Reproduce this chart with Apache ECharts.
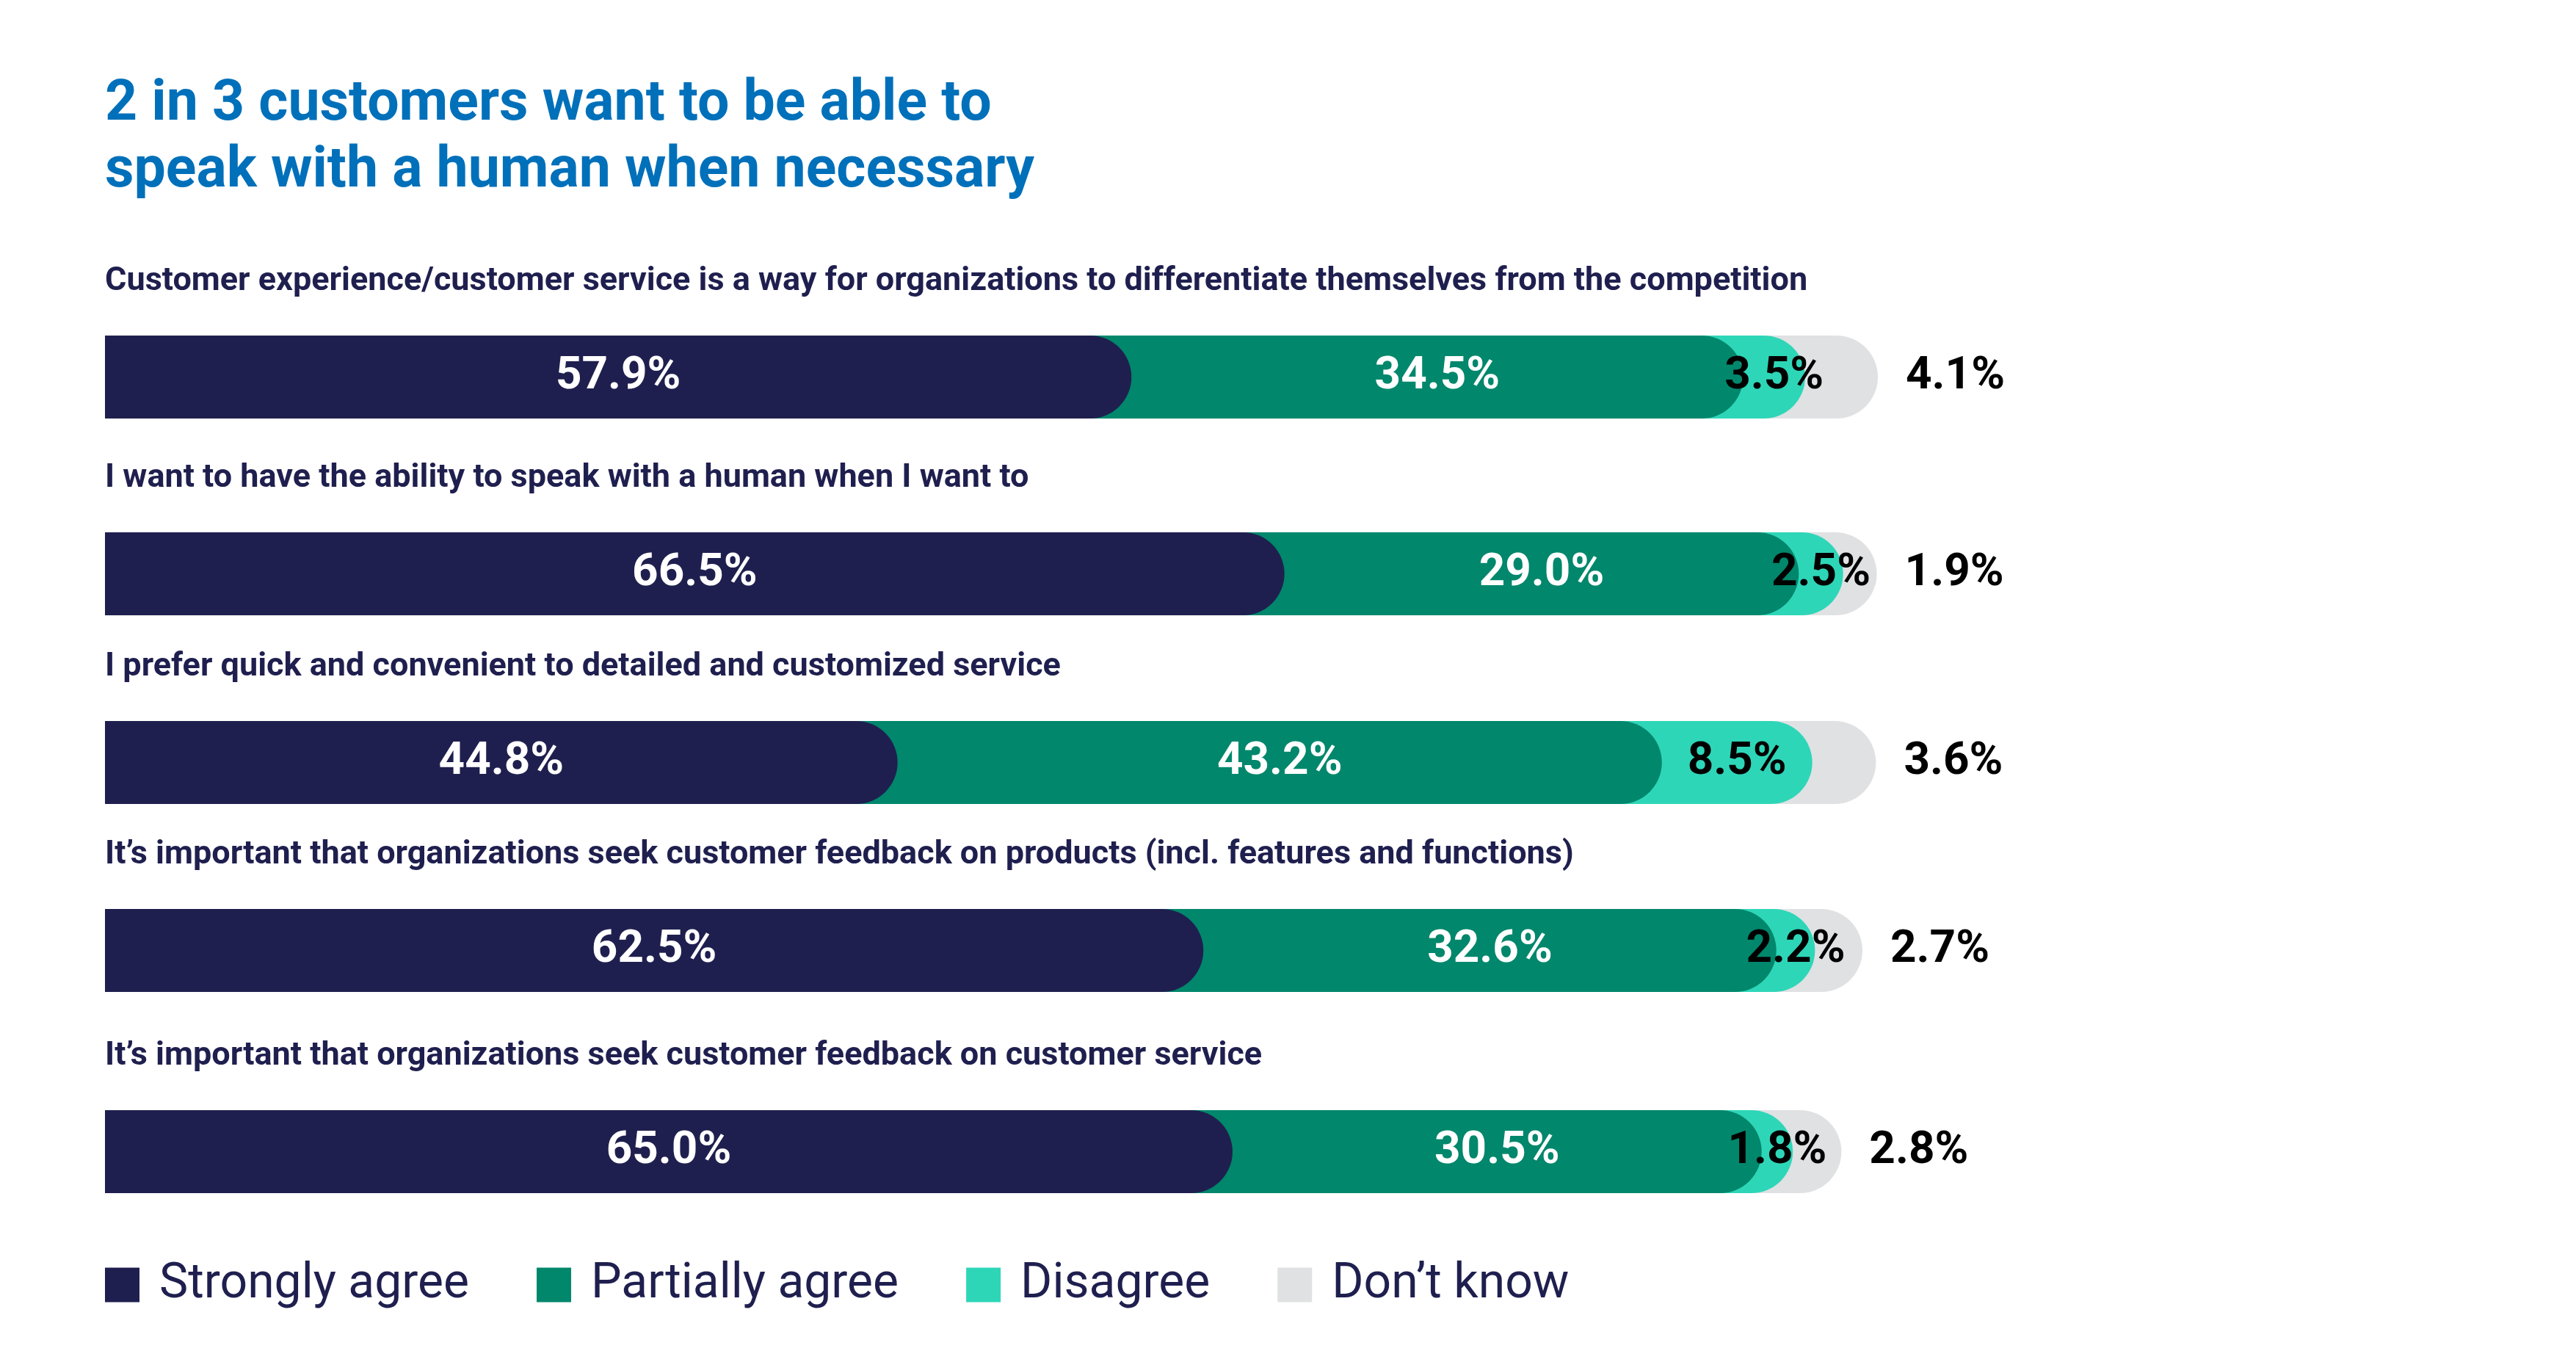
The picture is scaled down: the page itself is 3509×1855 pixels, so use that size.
<!DOCTYPE html>
<html><head><meta charset="utf-8">
<script src="https://cdn.jsdelivr.net/npm/echarts@6/dist/echarts.min.js"></script>
<style>html,body{margin:0;padding:0;background:#fff}#c{width:3509px;height:1855px}</style>
</head><body><div id="c"></div>
<script>
const titleText = '2 in 3 customers want to be able to\nspeak with a human when necessary';
const categories = [
  'Customer experience/customer service is a way for organizations to differentiate themselves from the competition',
  'I want to have the ability to speak with a human when I want to',
  'I prefer quick and convenient to detailed and customized service',
  'It\u2019s important that organizations seek customer feedback on products (incl. features and functions)',
  'It\u2019s important that organizations seek customer feedback on customer service'
];
const seriesNames = ['Strongly agree', 'Partially agree', 'Disagree', 'Don\u2019t know'];
const stronglyAgree  = [57.9, 66.5, 44.8, 62.5, 65.0];
const partiallyAgree = [34.5, 29.0, 43.2, 32.6, 30.5];
const disagree       = [3.5, 2.5, 8.5, 2.2, 1.8];
const dontKnow       = [4.1, 1.9, 3.6, 2.7, 2.8];

// layout
const rowTops = [457, 725, 982, 1238, 1512];
const rowWidths = [2415, 2416, 2410, 2394, 2363];
const barH = 113;
const left = 143;
const colors = ['#1F1F4F', '#00876C', '#2ED6B8', '#E0E1E3'];
const navy = '#1F1F4F';
const font = 'Roboto';

const values = [stronglyAgree, partiallyAgree, disagree, dontKnow];

const grid = [], xAxis = [], yAxis = [], series = [];
for (let i = 0; i < categories.length; i++) {
  grid.push({ left: left, top: rowTops[i], width: rowWidths[i], height: barH });
  xAxis.push({ type: 'value', gridIndex: i, min: 0, max: 100, show: false });
  yAxis.push({
    type: 'category', gridIndex: i, data: [categories[i]],
    axisLine: { show: false }, axisTick: { show: false }, axisLabel: { show: false }, splitLine: { show: false },
    name: categories[i], nameLocation: 'end', nameGap: 73,
    nameTextStyle: { align: 'left', verticalAlign: 'middle', fontFamily: font, fontWeight: 'bold', fontSize: 45, color: navy }
  });
  // cumulative overlapping bars (drawn back to front)
  const cum = [];
  let s = 0;
  for (let k = 0; k < 4; k++) { s += values[k][i]; cum.push(+s.toFixed(2)); }
  for (let k = 3; k >= 0; k--) {
    series.push({
      type: 'bar', name: seriesNames[k], xAxisIndex: i, yAxisIndex: i,
      data: [cum[k]], barWidth: barH, barGap: '-100%', clip: false, silent: true,
      itemStyle: { color: colors[k], borderRadius: [0, barH / 2, barH / 2, 0] },
      label: { show: false }, z: 2 + (3 - k)
    });
  }
  // stacked transparent bars carrying the value labels
  for (let k = 0; k < 4; k++) {
    series.push({
      type: 'bar', name: 'lbl' + k, stack: 'lbl' + i, xAxisIndex: i, yAxisIndex: i,
      data: [values[k][i]], barWidth: barH, barGap: '-100%', clip: false, silent: true,
      itemStyle: { color: 'rgba(0,0,0,0)' }, z: 10,
      label: {
        show: true,
        position: k === 3 ? 'right' : 'inside',
        distance: k === 3 ? 38 : 5,
        formatter: p => p.value.toFixed(1) + '%',
        fontFamily: font, fontWeight: 'bold', fontSize: 62,
        color: k < 2 ? '#FFFFFF' : '#000000'
      }
    });
  }
}

const chart = echarts.init(document.getElementById('c'), null, { renderer: 'canvas' });
chart.setOption({
  animation: false,
  backgroundColor: '#FFFFFF',
  title: {
    text: titleText, left: left, top: 98, padding: 0,
    textStyle: { fontFamily: font, fontWeight: 'bold', fontSize: 77, lineHeight: 91, color: '#0070BA' }
  },
  legend: {
    data: seriesNames, left: left, top: 1717, padding: 0,
    icon: 'rect', itemWidth: 47, itemHeight: 47, itemGap: 92,
    textStyle: { fontFamily: font, fontSize: 66, color: navy, padding: [0, 0, 0, 22] },
    selectedMode: false
  },
  grid: grid, xAxis: xAxis, yAxis: yAxis, series: series
});
</script></body></html>
